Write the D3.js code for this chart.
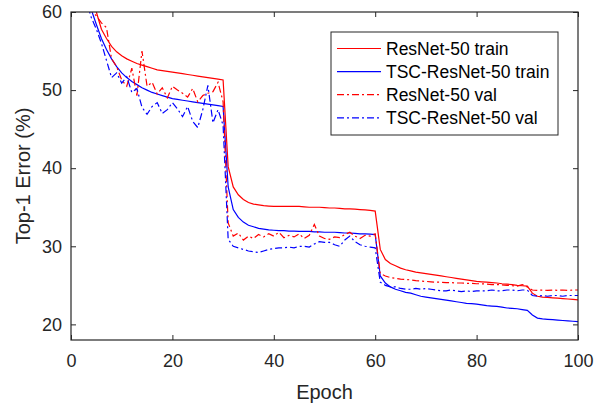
<!DOCTYPE html>
<html>
<head>
<meta charset="utf-8">
<script src="https://cdn.jsdelivr.net/npm/d3@7"></script>
<style>
  html, body { margin: 0; padding: 0; background: #fff; }
  svg { display: block; font-family: "Liberation Sans", Arial, sans-serif; }
</style>
</head>
<body>
<svg id="chart" width="605" height="405"></svg>
<script>
// ---------- data (epochs 1..100) ----------
const epochs = d3.range(1, 101);

const resnetTrain = [
  78, 70, 65, 61.5, 60.0, 57.8, 56.6, 55.6, 54.9, 54.4,
  54.0, 53.7, 53.4, 53.2, 53.0, 52.8, 52.6, 52.5, 52.4, 52.3,
  52.2, 52.1, 52.0, 51.9, 51.8, 51.7, 51.6, 51.5, 51.4, 51.3,
  40.2, 37.6, 36.6, 36.0, 35.6, 35.4, 35.3, 35.2, 35.15, 35.1,
  35.1, 35.1, 35.1, 35.1, 35.1, 35.05, 35.0, 35.0, 35.0, 34.95,
  34.9, 34.9, 34.85, 34.8, 34.8, 34.75, 34.7, 34.65, 34.6, 34.5,
  29.6, 28.3, 27.8, 27.5, 27.2, 27.0, 26.85, 26.7, 26.6, 26.5,
  26.4, 26.3, 26.2, 26.1, 26.0, 25.9, 25.8, 25.7, 25.6, 25.5,
  25.45, 25.4, 25.35, 25.3, 25.2, 25.15, 25.1, 25.0, 24.95, 24.9,
  24.0, 23.6, 23.5, 23.45, 23.4, 23.35, 23.3, 23.25, 23.2, 23.15
];

const tscTrain = [
  75, 67, 62.5, 60.3, 58.4, 56.6, 55.2, 54.0, 53.0, 52.2,
  51.6, 51.1, 50.7, 50.3, 50.0, 49.7, 49.5, 49.3, 49.1, 48.9,
  48.8, 48.7, 48.6, 48.5, 48.4, 48.3, 48.2, 48.1, 48.0, 47.9,
  37.6, 34.7, 33.7, 33.1, 32.7, 32.5, 32.3, 32.2, 32.1, 32.05,
  32.0, 32.0, 31.95, 31.95, 31.9, 31.9, 31.9, 31.85, 31.85, 31.8,
  31.8, 31.8, 31.75, 31.7, 31.7, 31.65, 31.6, 31.6, 31.55, 31.5,
  26.2, 25.3, 24.8, 24.5, 24.3, 24.1, 24.0, 23.8, 23.6, 23.5,
  23.4, 23.3, 23.2, 23.1, 23.0, 22.9, 22.8, 22.7, 22.65, 22.6,
  22.5, 22.4, 22.35, 22.3, 22.2, 22.1, 22.05, 22.0, 21.9, 21.8,
  21.2, 20.8, 20.7, 20.65, 20.6, 20.55, 20.5, 20.45, 20.4, 20.35
];

const resnetVal = [
  76, 68, 63, 60.2, 59.5, 58.6, 58.0, 54.0, 53.0, 51.3,
  50.5, 52.8, 49.3, 55.0, 50.5, 51.0, 49.5, 50.3, 49.0, 50.5,
  50.0, 49.6, 49.1, 50.2, 48.5, 49.3, 49.6, 49.8, 51.0, 48.5,
  33.0, 31.3, 31.7, 30.8, 31.3, 31.0, 31.5, 31.2, 31.6, 31.3,
  31.8, 31.1, 31.4, 31.2, 31.6, 31.0, 31.4, 32.8, 31.3, 31.0,
  30.9, 31.2, 31.1, 31.5, 31.8, 31.3, 31.0, 31.4, 31.3, 31.6,
  26.5, 26.2, 26.0, 25.9, 25.8, 25.75, 25.7, 25.6, 25.55, 25.5,
  25.45, 25.4, 25.4, 25.35, 25.35, 25.3, 25.3, 25.25, 25.25, 25.2,
  25.2, 25.15, 25.1, 25.1, 25.05, 25.0, 24.95, 24.9, 25.1, 24.8,
  24.4, 24.35, 24.4, 24.35, 24.4, 24.35, 24.4, 24.35, 24.4, 24.4
];

const tscVal = [
  74, 66, 61.5, 59.3, 57.8, 56.0, 53.8, 51.6, 52.2, 50.9,
  51.7, 49.7, 50.2, 47.8, 46.9, 47.9, 48.4, 47.0, 47.5, 48.4,
  47.6, 46.6, 47.9, 46.0, 45.2, 47.5, 50.6, 45.8, 47.5, 45.5,
  30.9, 30.0, 29.8, 29.6, 29.4, 29.3, 29.2, 29.4, 29.6, 29.7,
  29.8, 29.8, 29.9, 29.8, 30.0, 30.0, 29.9, 30.3, 30.6, 30.5,
  30.5, 30.2, 30.0, 30.8, 31.3, 30.6, 30.2, 30.0, 29.9, 29.8,
  25.4, 25.0, 24.8, 24.8, 24.6, 24.5, 24.5, 24.6, 24.5, 24.6,
  24.5, 24.4, 24.3, 24.3, 24.4, 24.3, 24.2, 24.3, 24.2, 24.3,
  24.3, 24.3, 24.4, 24.3, 24.3, 24.4, 24.4, 24.3, 24.4, 24.4,
  23.7, 23.6, 23.7, 23.6, 23.7, 23.7, 23.6, 23.7, 23.7, 23.7
];

const seriesNames = ["ResNet-50 train", "TSC-ResNet-50 train", "ResNet-50 val", "TSC-ResNet-50 val"];
const xTicks = [0, 20, 40, 60, 80, 100];
const yTicks = [20, 30, 40, 50, 60];

// ---------- layout ----------
const L = 71, R = 578, T = 12, B = 340;
const ink = "#262626";
const svg = d3.select("#chart");

const x = d3.scaleLinear().domain([0, 100]).range([L, R]);
const y = d3.scaleLinear().domain([18, 60]).range([B, T]);

const series = [
  { name: seriesNames[0], values: resnetTrain, color: "#ff0000", dash: null },
  { name: seriesNames[1], values: tscTrain, color: "#0000ff", dash: null },
  { name: seriesNames[2], values: resnetVal, color: "#ff0000", dash: "7,3,2,3" },
  { name: seriesNames[3], values: tscVal, color: "#0000ff", dash: "7,3,2,3" }
];

svg.append("defs").append("clipPath").attr("id", "clip")
  .append("rect").attr("x", L).attr("y", T).attr("width", R - L).attr("height", B - T);

// ---------- lines ----------
const line = d3.line().x((d, i) => x(epochs[i])).y(d => y(d));
const g = svg.append("g").attr("clip-path", "url(#clip)");
series.forEach(s => {
  g.append("path").datum(s.values)
    .attr("d", line)
    .attr("fill", "none")
    .attr("stroke", s.color)
    .attr("stroke-width", 1.2)
    .attr("stroke-dasharray", s.dash);
});

// ---------- axes ----------
const fs = 18;
const axB = svg.append("g").attr("transform", `translate(0,${B})`)
  .call(d3.axisBottom(x).tickValues(xTicks).tickSizeInner(-5).tickSizeOuter(0).tickPadding(14));
const axT = svg.append("g").attr("transform", `translate(0,${T})`)
  .call(d3.axisTop(x).tickValues(xTicks).tickSizeInner(-5).tickSizeOuter(0).tickFormat(""));
const axL = svg.append("g").attr("transform", `translate(${L},0)`)
  .call(d3.axisLeft(y).tickValues(yTicks).tickSizeInner(-5).tickSizeOuter(0).tickPadding(9));
const axR = svg.append("g").attr("transform", `translate(${R},0)`)
  .call(d3.axisRight(y).tickValues(yTicks).tickSizeInner(-5).tickSizeOuter(0).tickFormat(""));

[axB, axT, axL, axR].forEach(a => {
  a.select(".domain").remove();
  a.selectAll(".tick line").attr("stroke", ink).attr("stroke-width", 1);
  a.selectAll(".tick text").attr("fill", ink).attr("font-size", fs)
    .attr("font-family", "Liberation Sans, Arial, sans-serif");
});

svg.append("rect").attr("x", L).attr("y", T).attr("width", R - L).attr("height", B - T)
  .attr("fill", "none").attr("stroke", ink).attr("stroke-width", 1.2);

// ---------- axis labels ----------
svg.append("text").attr("x", (L + R) / 2).attr("y", 399)
  .attr("text-anchor", "middle").attr("font-size", 20).attr("fill", ink).text("Epoch");
svg.append("text").attr("transform", `translate(29.5,${(T + B) / 2}) rotate(-90)`)
  .attr("text-anchor", "middle").attr("font-size", 20).attr("fill", ink).text("Top-1 Error (%)");

// ---------- legend ----------
const lg = svg.append("g");
lg.append("rect").attr("x", 331).attr("y", 32).attr("width", 227).attr("height", 103)
  .attr("fill", "#fff").attr("stroke", ink).attr("stroke-width", 1);
series.forEach((s, i) => {
  const yy = 48.5 + i * 23.1;
  lg.append("line").attr("x1", 337).attr("x2", 381).attr("y1", yy).attr("y2", yy)
    .attr("stroke", s.color).attr("stroke-width", 1.2).attr("stroke-dasharray", s.dash);
  lg.append("text").attr("x", 386).attr("y", yy).attr("dy", "0.36em")
    .attr("font-size", 17.5).attr("fill", "#000").text(s.name);
});
</script>
</body>
</html>
